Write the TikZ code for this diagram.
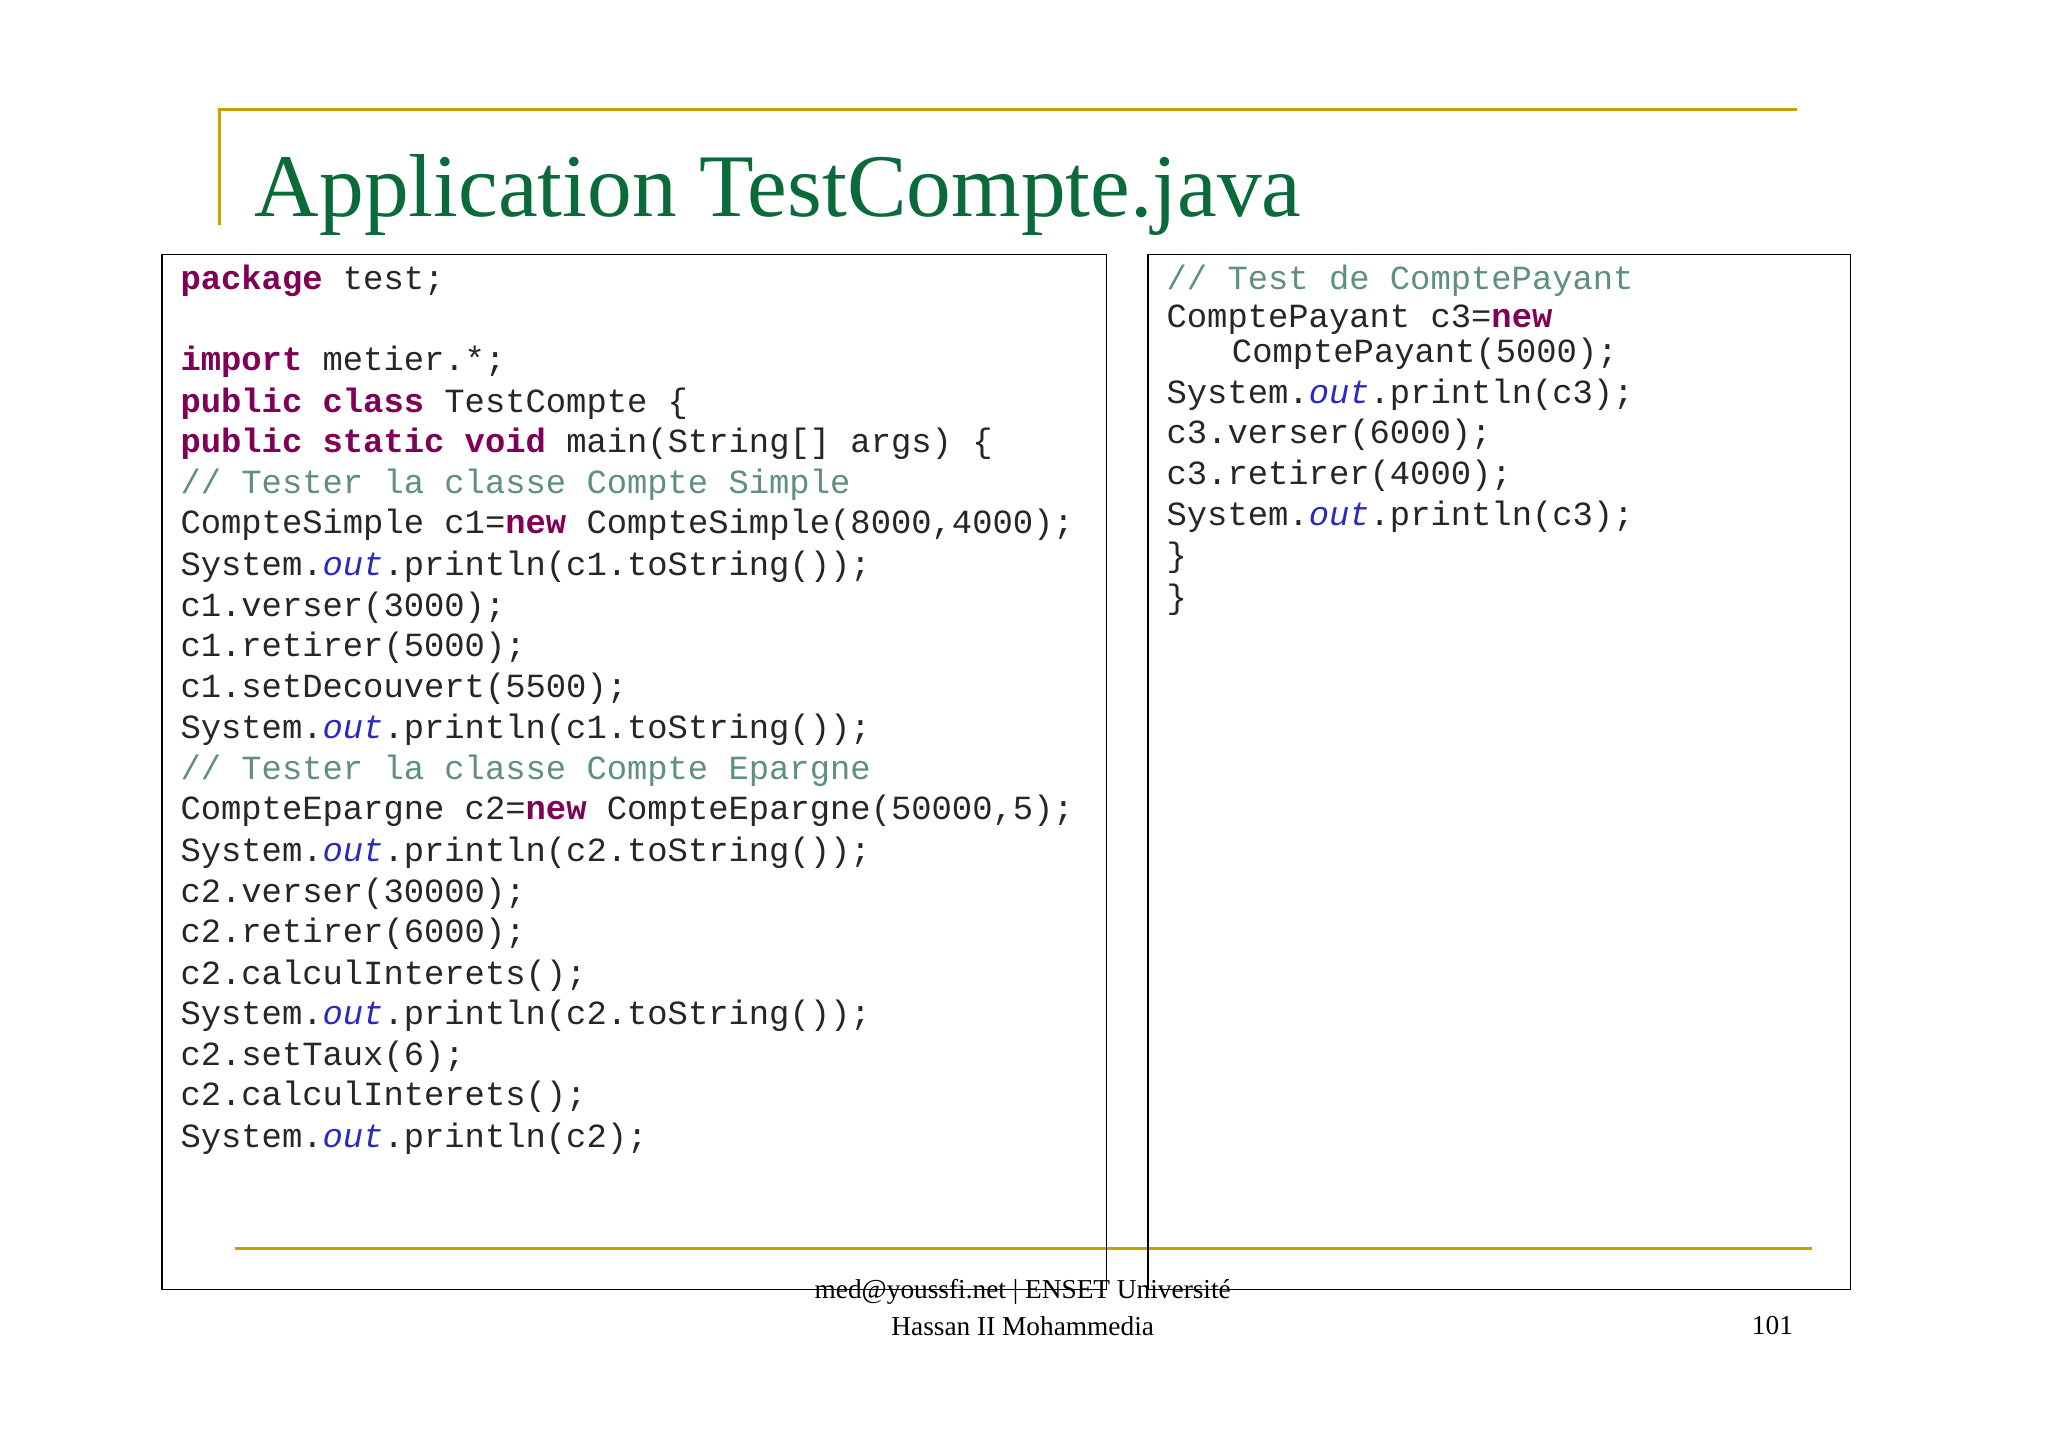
\documentclass[tikz,border=0pt]{standalone}
\usepackage{fontspec}
\setmainfont{Liberation Serif}
\setmonofont{Liberation Mono}
\definecolor{gold}{HTML}{C8A000}
\definecolor{kw}{HTML}{7F0055}
\definecolor{cm}{HTML}{5F8F7F}
\definecolor{fl}{HTML}{2A2AC0}
\definecolor{ttl}{HTML}{0A6A3A}
\newcommand{\kw}[1]{\textcolor{kw}{\textbf{#1}}}
\newcommand{\cmt}[1]{\textcolor{cm}{#1}}
\newcommand{\fo}{\textcolor{fl}{\textit{out}}}
\begin{document}
\begin{tikzpicture}[x=1bp,y=-1bp,
  code/.style={anchor=west,inner sep=0pt,font=\fontsize{26}{30}\selectfont\ttfamily,text=black!85},
  goldline/.style={draw=gold,line width=2.5bp},
  box/.style={draw=black,line width=1bp}]
\useasboundingbox (0,0) rectangle (1568,1108);
\fill[white] (0,0) rectangle (1568,1108);
\draw[goldline] (168,172) -- (168,84) -- (1376,84);
\node[anchor=base west,inner sep=0pt,text=ttl,font=\fontsize{68.7}{70}\selectfont] (title) at (195,166) {Application TestCompte.java};
\draw[goldline] (180,956) -- (1387,956);
\draw[box] (124,195) rectangle (847,987);
\draw[box] (879,195) rectangle (1417,987);
\begin{scope}[yshift=-2bp]
\node[code] (a1) at (138,213) {\kw{package} test;};
\node[code] (a2) at (138,275) {\kw{import} metier.*;};
\node[code] (a3) at (138,307) {\kw{public} \kw{class} TestCompte \{};
\node[code] (a4) at (138,338) {\kw{public} \kw{static} \kw{void} main(String[] args) \{};
\node[code] (a5) at (138,369) {\cmt{// Tester la classe Compte Simple}};
\node[code] (a6) at (138,400) {CompteSimple c1=\kw{new} CompteSimple(8000,4000);};
\node[code] (a7) at (138,432) {System.\fo.println(c1.toString());};
\node[code] (a8) at (138,463) {c1.verser(3000);};
\node[code] (a9) at (138,494) {c1.retirer(5000);};
\node[code] (a10) at (138,525) {c1.setDecouvert(5500);};
\node[code] (a11) at (138,557) {System.\fo.println(c1.toString());};
\node[code] (a12) at (138,588) {\cmt{// Tester la classe Compte Epargne}};
\node[code] (a13) at (138,619) {CompteEpargne c2=\kw{new} CompteEpargne(50000,5);};
\node[code] (a14) at (138,651) {System.\fo.println(c2.toString());};
\node[code] (a15) at (138,682) {c2.verser(30000);};
\node[code] (a16) at (138,713) {c2.retirer(6000);};
\node[code] (a17) at (138,745) {c2.calculInterets();};
\node[code] (a18) at (138,776) {System.\fo.println(c2.toString());};
\node[code] (a19) at (138,807) {c2.setTaux(6);};
\node[code] (a20) at (138,838) {c2.calculInterets();};
\node[code] (a21) at (138,870) {System.\fo.println(c2);};
\node[code] (b1) at (893,213) {\cmt{// Test de ComptePayant}};
\node[code] (b2) at (893,243) {ComptePayant c3=\kw{new}};
\node[code] (b3) at (943,269) {ComptePayant(5000);};
\node[code] (b4) at (893,300) {System.\fo.println(c3);};
\node[code] (b5) at (893,331) {c3.verser(6000);};
\node[code] (b6) at (893,362) {c3.retirer(4000);};
\node[code] (b7) at (893,394) {System.\fo.println(c3);};
\node[code] (b8) at (893,425) {\}};
\node[code] (b9) at (893,457) {\}};
\end{scope}
\node[anchor=center,inner sep=0pt,font=\fontsize{21}{25}\selectfont] (f1) at (783,989) {med@youssfi.net | ENSET Université};
\node[anchor=center,inner sep=0pt,font=\fontsize{21}{25}\selectfont] (f2) at (783,1015) {Hassan II Mohammedia};
\node[anchor=center,inner sep=0pt,font=\fontsize{21}{25}\selectfont] (pg) at (1357,1015) {101};
\end{tikzpicture}
\end{document}
